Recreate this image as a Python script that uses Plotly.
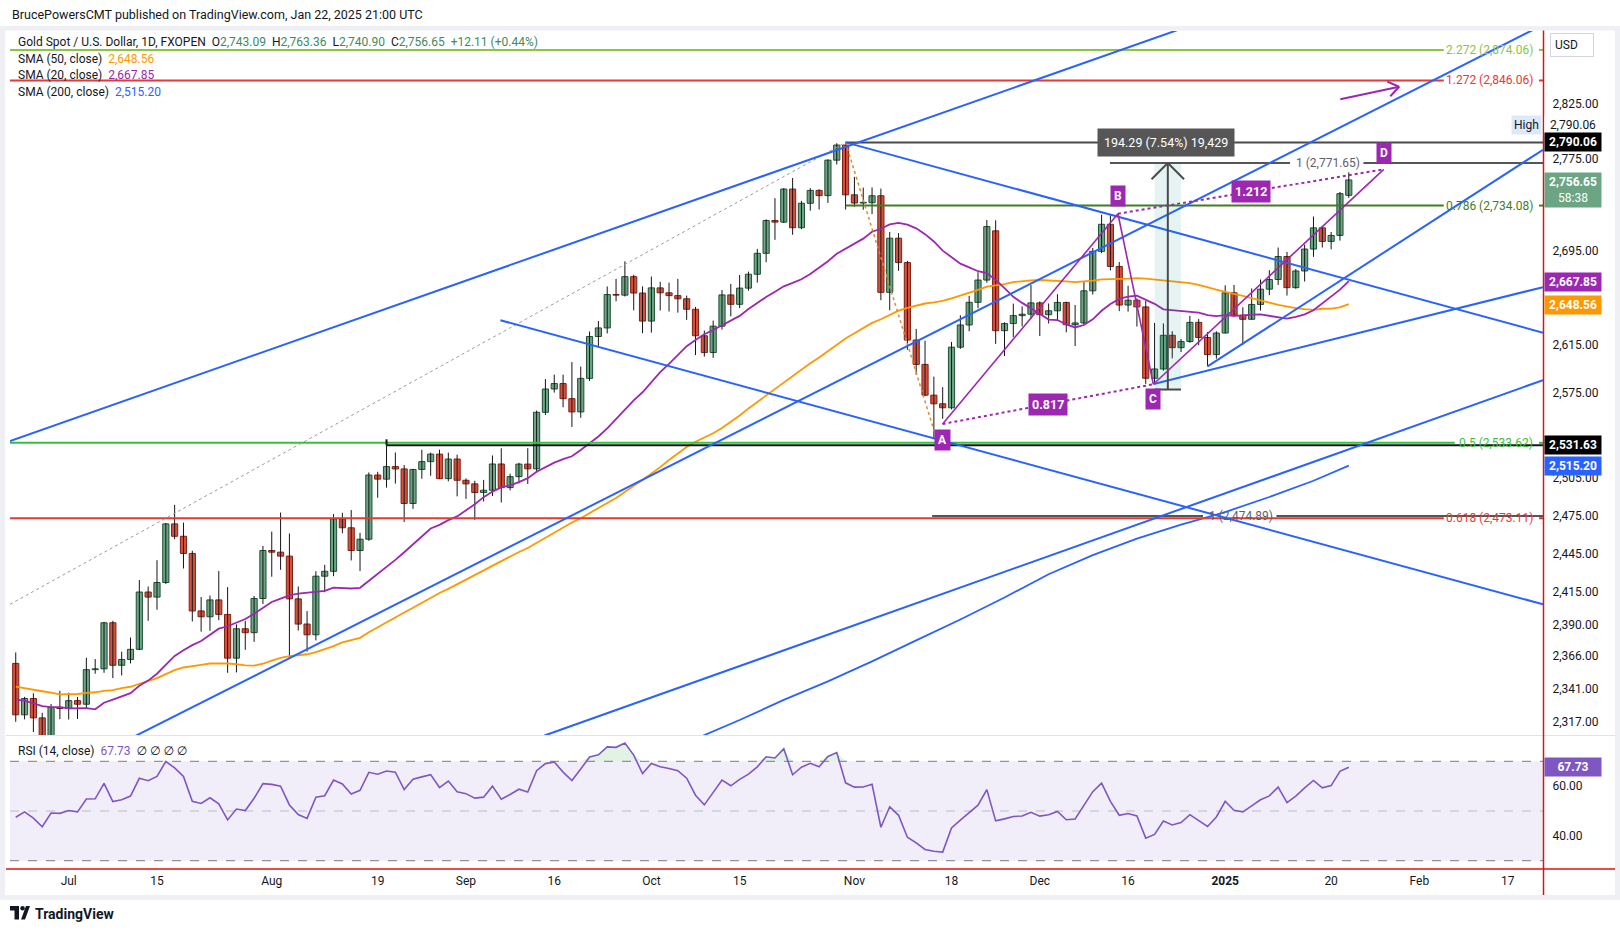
import math
import numpy as np
import pandas as pd
import plotly.graph_objects as go

FONT = "Roboto, 'Noto Sans', 'DejaVu Sans', sans-serif"
TXT = "#131722"
UP_FILL, UP_LINE = "#6ba583", "#1f4f35"
DN_FILL, DN_LINE = "#d6513d", "#7c2217"
BLUE, PURPLE, ORANGE = "#2962ff", "#9c27b0", "#ff9800"
RSI_COL = "#7e57c2"
AXIS_RED = "#e01010"

# ---------------- data ----------------
holidays = ["2024-12-25", "2025-01-01"]
sessions = [d.strftime("%Y-%m-%d") for d in pd.bdate_range("2024-06-21", "2025-02-28")
            if d.strftime("%Y-%m-%d") not in holidays]
POS = {d: i for i, d in enumerate(sessions)}

opens = [
    2360.5, 2321.9, 2334.1, 2319.6, 2298.4, 2327.5,
    2326.6, 2332.5, 2329.8, 2355.8, 2356.4, 2391.5, 2359.1, 2363.5, 2371.2, 2415.2, 2411.3, 2422.6,
    2468.6, 2458.8, 2445.3, 2400.6, 2396.1, 2409.1, 2397.9, 2364.5, 2386.9, 2383.9, 2410.2,
    2447.6, 2446.3, 2443.2, 2409.9, 2390.5, 2382.3, 2427.5, 2431.3, 2472.5, 2465.5, 2447.6, 2456.5,
    2507.6, 2504.3, 2514.4, 2512.5, 2484.8, 2512.1, 2518.4, 2524.5, 2504.7, 2520.5,
    2503.4, 2500.5, 2493.6, 2495.4, 2516.5, 2497.5, 2506.3, 2516.4, 2512.6, 2558.6, 2577.8, 2582.3,
    2569.8, 2558.9, 2586.6, 2621.6, 2628.8, 2657.1, 2656.6, 2672.4, 2658.4,
    2634.6, 2662.8, 2658.6, 2656.2, 2653.5, 2644.6, 2622.2, 2608.1, 2630.3, 2656.8, 2648.8, 2662.6,
    2674.5, 2692.5, 2721.0, 2719.6, 2748.6, 2714.7, 2736.1, 2747.4, 2742.8, 2774.2, 2787.7,
    2743.5, 2736.3, 2736.6, 2742.7, 2659.0, 2705.6, 2684.5, 2618.6, 2598.2, 2572.7, 2565.6, 2562.3,
    2612.6, 2631.3, 2650.5, 2669.5, 2712.0, 2626.5, 2632.5, 2639.2, 2640.4,
    2650.0, 2640.0, 2643.3, 2650.4, 2631.5, 2633.0, 2660.3, 2694.2, 2717.7, 2681.2, 2648.2, 2652.3,
    2646.6, 2586.7, 2594.4, 2622.6, 2612.2, 2617.4, 2633.5, 2620.8, 2606.4,
    2624.5, 2658.6, 2639.6, 2636.1, 2648.7, 2661.7, 2670.0, 2689.7, 2663.0, 2677.3, 2696.2, 2714.6,
    2702.8, 2708.0, 2743.09,
]
highs = [
    2368.8, 2335.3, 2338.0, 2323.4, 2330.0, 2339.9,
    2338.4, 2335.2, 2364.8, 2363.8, 2392.2, 2393.0, 2369.4, 2380.2, 2424.5, 2419.5, 2440.0, 2469.3,
    2483.7, 2469.6, 2447.4, 2411.4, 2412.5, 2431.5, 2419.0, 2390.3, 2393.0, 2412.1, 2451.2,
    2462.5, 2477.6, 2461.0, 2419.5, 2400.5, 2431.4, 2436.4, 2476.4, 2477.4, 2479.6, 2461.5, 2509.7,
    2510.2, 2531.63, 2525.8, 2515.6, 2512.5, 2528.0, 2525.7, 2528.1, 2525.7, 2524.0,
    2504.9, 2503.0, 2503.7, 2523.4, 2529.2, 2508.6, 2517.5, 2529.3, 2560.0, 2586.0, 2589.7, 2589.7,
    2600.2, 2596.4, 2625.8, 2634.7, 2664.0, 2670.5, 2685.6, 2674.0, 2664.0,
    2672.5, 2668.0, 2667.3, 2670.5, 2656.2, 2646.6, 2626.6, 2635.0, 2661.0, 2666.2, 2673.8, 2676.7,
    2696.3, 2722.0, 2740.6, 2749.4, 2758.4, 2738.2, 2749.4, 2748.4, 2775.0, 2789.3, 2790.06,
    2759.4, 2749.9, 2750.0, 2749.0, 2711.0, 2710.0, 2686.0, 2628.0, 2618.0, 2588.0, 2579.3, 2617.0,
    2639.5, 2656.0, 2676.2, 2721.4, 2721.2, 2633.5, 2649.4, 2647.0, 2665.2,
    2651.3, 2649.5, 2657.4, 2651.0, 2648.2, 2668.4, 2697.2, 2726.0, 2725.6, 2685.0, 2664.6, 2653.8,
    2652.0, 2633.0, 2632.6, 2626.0, 2619.5, 2639.0, 2636.3, 2625.3, 2626.0,
    2665.0, 2665.3, 2646.3, 2662.3, 2670.0, 2678.0, 2697.5, 2693.7, 2679.0, 2700.0, 2724.5, 2716.3,
    2711.0, 2746.0, 2763.36,
]
lows = [
    2316.7, 2318.5, 2309.1, 2293.7, 2298.0, 2318.6,
    2318.4, 2318.8, 2326.7, 2352.7, 2353.4, 2349.4, 2351.4, 2360.5, 2370.6, 2393.0, 2401.5, 2421.5,
    2456.5, 2433.5, 2392.5, 2384.7, 2385.4, 2393.5, 2353.4, 2353.7, 2370.8, 2376.9, 2406.0,
    2427.1, 2432.5, 2364.5, 2385.5, 2369.5, 2378.0, 2415.0, 2427.5, 2461.2, 2439.8, 2431.5, 2455.2,
    2489.4, 2497.5, 2500.7, 2470.1, 2480.5, 2504.6, 2507.0, 2504.3, 2502.5, 2490.5,
    2488.5, 2471.8, 2486.4, 2490.7, 2485.6, 2495.3, 2500.9, 2500.4, 2510.0, 2556.4, 2574.8, 2562.7,
    2546.6, 2554.1, 2584.3, 2613.3, 2624.2, 2651.4, 2655.5, 2643.7, 2624.4,
    2624.8, 2643.5, 2642.7, 2641.7, 2635.6, 2606.0, 2604.7, 2603.7, 2627.4, 2638.6, 2645.6, 2660.4,
    2667.3, 2684.8, 2704.2, 2718.8, 2708.6, 2713.5, 2729.6, 2730.6, 2736.4, 2770.4, 2730.6,
    2733.0, 2730.4, 2726.6, 2652.3, 2643.7, 2677.4, 2610.5, 2589.6, 2572.0, 2536.8, 2553.3, 2561.0,
    2611.2, 2626.0, 2645.5, 2667.2, 2615.4, 2605.2, 2621.2, 2630.1, 2636.4,
    2622.0, 2632.5, 2634.6, 2625.1, 2613.6, 2631.6, 2657.1, 2692.6, 2677.7, 2643.0, 2642.6, 2630.0,
    2582.0, 2583.0, 2593.0, 2603.3, 2608.5, 2616.3, 2614.2, 2596.5, 2603.0,
    2624.3, 2638.0, 2614.5, 2636.0, 2643.5, 2656.6, 2665.3, 2656.3, 2662.0, 2668.2, 2689.5, 2697.5,
    2696.0, 2703.5, 2740.90,
]
closes = [
    2321.9, 2334.1, 2319.6, 2298.4, 2327.5, 2326.6,
    2332.5, 2329.8, 2355.8, 2356.4, 2391.5, 2359.1, 2363.5, 2371.2, 2415.2, 2411.3, 2422.6, 2468.6,
    2458.8, 2445.3, 2400.6, 2396.1, 2409.1, 2397.9, 2364.5, 2386.9, 2383.9, 2410.2, 2447.6,
    2446.3, 2443.2, 2409.9, 2390.5, 2382.3, 2427.5, 2431.3, 2472.5, 2465.5, 2447.6, 2456.5, 2507.6,
    2504.3, 2514.4, 2512.5, 2484.8, 2512.1, 2518.4, 2524.5, 2504.7, 2520.5, 2503.4,
    2500.5, 2493.6, 2495.4, 2516.5, 2497.5, 2506.3, 2516.4, 2512.6, 2558.6, 2577.8, 2582.3, 2569.8,
    2558.9, 2586.6, 2621.6, 2628.8, 2657.1, 2656.6, 2672.4, 2658.4, 2634.6,
    2662.8, 2658.6, 2656.2, 2653.5, 2644.6, 2622.2, 2608.1, 2630.3, 2656.8, 2648.8, 2662.6, 2674.5,
    2692.5, 2721.0, 2719.6, 2748.6, 2714.7, 2736.1, 2747.4, 2742.8, 2774.2, 2787.7, 2743.5,
    2736.3, 2736.6, 2742.7, 2659.0, 2705.6, 2684.5, 2618.6, 2598.2, 2572.7, 2565.6, 2562.3, 2612.6,
    2631.3, 2650.5, 2669.5, 2715.7, 2626.5, 2632.5, 2639.2, 2640.4, 2650.0,
    2640.0, 2643.3, 2650.4, 2631.5, 2633.0, 2660.3, 2694.2, 2717.7, 2681.2, 2648.2, 2652.3, 2646.6,
    2586.7, 2594.4, 2622.6, 2612.2, 2617.4, 2633.5, 2620.8, 2606.4, 2624.5,
    2658.6, 2639.6, 2636.1, 2648.7, 2661.7, 2670.0, 2689.7, 2663.0, 2677.3, 2696.2, 2714.6, 2702.8,
    2708.0, 2744.54, 2756.65,
]
# closes before the first visible bar (warm-up for the moving averages / RSI)
hist_close = [
    2339, 2352, 2333, 2372, 2344, 2383, 2383, 2361, 2379, 2391, 2327, 2322, 2316, 2332, 2337, 2335,
    2286, 2320, 2303, 2301, 2323, 2314, 2309, 2346, 2360, 2336, 2358, 2386, 2376, 2415, 2425, 2421,
    2378, 2329, 2334, 2350, 2361, 2338, 2343, 2327, 2350, 2327, 2355, 2375, 2293, 2311, 2316, 2324,
    2304, 2333, 2319, 2329, 2328, 2360,
]
sma200_dates = ["2024-10-01", "2024-10-08", "2024-10-15", "2024-10-22", "2024-10-29", "2024-11-05",
                "2024-11-12", "2024-11-19", "2024-11-26", "2024-12-03", "2024-12-10", "2024-12-17",
                "2024-12-24", "2025-01-02", "2025-01-09", "2025-01-16", "2025-01-22"]
sma200_vals = [2289, 2304, 2318, 2333, 2347, 2362, 2378, 2394, 2411, 2429, 2444, 2457, 2468, 2478,
               2490, 2503, 2515.2]

# price-scale ticks (the ones hidden under value boxes in the reference are left out)
price_ticks = [2317, 2341, 2366, 2390, 2415, 2445, 2475, 2505, 2575, 2615, 2695, 2775, 2825]
rsi_ticks = [40, 60]
time_tick_dates = ["2024-07-01", "2024-07-15", "2024-08-01", "2024-08-19", "2024-09-02", "2024-09-16",
                   "2024-10-01", "2024-10-15", "2024-11-01", "2024-11-18", "2024-12-02", "2024-12-16",
                   "2025-01-02", "2025-01-20", "2025-02-03", "2025-02-17"]
time_tick_text = ["Jul", "15", "Aug", "19", "Sep", "16", "Oct", "15", "Nov", "18", "Dec", "16",
                  "<b>2025</b>", "20", "Feb", "17"]

# drawing-tool anchors (bar index, price)
blue_lines = [  # x1, p1, x2, p2, extend_left, extend_right
    (-0.65, 2535.0, 94.0, 2786.0, False, True),
    (31.0, 2364.5, 154.5, 2821.6, True, True),
    (135.0, 2596.5, 173.0, 2783.5, False, False),
    (54.9, 2635.3, 173.0, 2405.7, False, False),
    (94.0, 2790.06, 173.0, 2624.8, False, False),
    (128.9, 2582.0, 173.0, 2663.4, False, False),
    (59.9, 2306.5, 173.0, 2585.1, False, False),
]
abcd = {"A": (104.99, 2549.0), "B": (124.85, 2726.9), "C": (128.86, 2581.7), "D": (154.96, 2766.0)}
abcd_ratio = {"AC": "0.817", "BD": "1.212"}
fib_levels = [  # price, label, colour, first bar (None = left edge)
    (2874.06, "2.272 (2,874.06)", "#8cc63f", None),
    (2846.06, "1.272 (2,846.06)", "#e53935", None),
    (2734.08, "0.786 (2,734.08)", "#437d22", 94),
    (2533.62, "0.5 (2,533.62)", "#36c236", None),
    (2473.11, "0.618 (2,473.11)", "#e53935", None),
]
fib_ext = [  # price, label, first bar, label left px
    (2771.65, "1 (2,771.65)", 123.95, 1294),
    (2474.89, "1 (2,474.89)", 103.8, 1207),
]
level_lines = [(2790.06, "#4a4a4a", 94), (2531.63, TXT, 42)]
measure = dict(b0=129, b1=132, low=2577.36, high=2771.65, text="194.29 (7.54%) 19,429")
grey_trend = (-0.65, 2405.7, 94.0, 2790.06)
orange_trend = (94.0, 2790.06, 104.06, 2542.6)
purple_arrow = (150.04, 2829.0, 156.71, 2840.3)

# ---------------- geometry ----------------
W, H = 1620, 931
ML, MR, MT, MB = 10, 77, 31, 62
PW, PH = W - ML - MR, H - MT - MB
P_TOP, P_BOT = 31, 735
R_TOP = 736
X_RANGE = [-0.65, 173.0]
YP = [2306.9, 2891.6]
YR = [26.66, 80.18]
LY0, LY1 = math.log10(YP[0]), math.log10(YP[1])


def xpap(px):
    return (px - ML) / PW


def ypap(py):
    return (H - MB - py) / PH


def pos_at_px(px):
    return X_RANGE[0] + (px - ML) / PW * (X_RANGE[1] - X_RANGE[0])


def px_of_pos(pos):
    return ML + (pos - X_RANGE[0]) / (X_RANGE[1] - X_RANGE[0]) * PW


def price_at_px(py):
    return 10 ** (LY0 + (P_BOT - py) / (P_BOT - P_TOP) * (LY1 - LY0))


def py_of_price(p):
    return P_BOT - (math.log10(p) - LY0) / (LY1 - LY0) * (P_BOT - P_TOP)


n = len(closes)
assert len(opens) == len(highs) == len(lows) == n
xs = list(range(n))

allc = np.array(hist_close + closes, dtype=float)
ser = pd.Series(allc)
h0 = len(hist_close)
sma20 = ser.rolling(20).mean().values[h0:]
sma50 = ser.rolling(50).mean().values[h0:]

d = np.diff(allc)
g = np.where(d > 0, d, 0.0)
lo_ = np.where(d < 0, -d, 0.0)
N = 14
rsi_all = np.full(len(allc), np.nan)
ag, al = g[:N].mean(), lo_[:N].mean()
rsi_all[N] = 100 - 100 / (1 + ag / al)
for i in range(N + 1, len(allc)):
    ag = (ag * (N - 1) + g[i - 1]) / N
    al = (al * (N - 1) + lo_[i - 1]) / N
    rsi_all[i] = 100 - 100 / (1 + ag / al)
rsi = rsi_all[h0:]

fig = go.Figure()

# candles: wicks + bodies
wx, wy = [], []
for i in xs:
    wx += [i, i, None]
    wy += [lows[i], highs[i], None]
fig.add_trace(go.Scatter(x=wx, y=wy, mode="lines", line=dict(color="#151515", width=1),
                         hoverinfo="skip", xaxis="x", yaxis="y"))
up = [i for i in xs if closes[i] >= opens[i]]
dn = [i for i in xs if closes[i] < opens[i]]
for idxs, fc, lc in ((up, UP_FILL, UP_LINE), (dn, DN_FILL, DN_LINE)):
    fig.add_trace(go.Bar(x=idxs, y=[max(abs(closes[i] - opens[i]), 0.6) for i in idxs],
                         base=[min(opens[i], closes[i]) for i in idxs], width=0.7,
                         marker=dict(color=fc, line=dict(color=lc, width=1)),
                         hoverinfo="skip", xaxis="x", yaxis="y"))

fig.add_trace(go.Scatter(x=xs, y=sma50, mode="lines", line=dict(color=ORANGE, width=1.8),
                         xaxis="x", yaxis="y", hoverinfo="skip"))
fig.add_trace(go.Scatter(x=xs, y=sma20, mode="lines", line=dict(color=PURPLE, width=1.8),
                         xaxis="x", yaxis="y", hoverinfo="skip"))
fig.add_trace(go.Scatter(x=[POS[s] for s in sma200_dates], y=sma200_vals, mode="lines",
                         line=dict(color=BLUE, width=1.8), xaxis="x", yaxis="y", hoverinfo="skip"))

# RSI
fig.add_trace(go.Scatter(x=xs, y=[70] * n, mode="lines", line=dict(width=0, color="rgba(0,0,0,0)"),
                         xaxis="x2", yaxis="y2", hoverinfo="skip"))
fig.add_trace(go.Scatter(x=xs, y=np.maximum(rsi, 70), mode="lines", line=dict(width=0),
                         fill="tonexty", fillcolor="rgba(76,175,80,0.16)",
                         xaxis="x2", yaxis="y2", hoverinfo="skip"))
fig.add_trace(go.Scatter(x=xs, y=rsi, mode="lines", line=dict(color=RSI_COL, width=1.6),
                         xaxis="x2", yaxis="y2", hoverinfo="skip"))

shapes = []
annotations = []


def seg(x0, p0, x1, p1, color, width=2, dash="solid", xref="x", yref="y", layer="above"):
    shapes.append(dict(type="line", xref=xref, yref=yref, x0=x0, y0=p0, x1=x1, y1=p1,
                       line=dict(color=color, width=width, dash=dash), layer=layer))


def log_at(x1, p1, x2, p2, x):
    return math.exp(math.log(p1) + (x - x1) * (math.log(p2) - math.log(p1)) / (x2 - x1))


def chevron(tip, tail, length, half_deg, color, width):
    tx, ty = px_of_pos(tip[0]), py_of_price(tip[1])
    bx, by = px_of_pos(tail[0]), py_of_price(tail[1])
    ang = math.atan2(by - ty, bx - tx)
    for s in (1, -1):
        a = ang + s * math.radians(half_deg)
        ex, ey = tx + length * math.cos(a), ty + length * math.sin(a)
        seg(tip[0], tip[1], pos_at_px(ex), price_at_px(ey), color, width)


XL, XR = X_RANGE

# fib levels with label gaps
for price, label, col, start in fib_levels:
    w = 5.45 * len(label)
    b0 = XL if start is None else start
    seg(b0, price, pos_at_px(1535 - w - 4), price, col, 2)
    seg(pos_at_px(1539), price, XR, price, col, 2)
    annotations.append(dict(xref="paper", yref="y", x=xpap(1535), y=math.log10(price), xanchor="right",
                            yanchor="middle", text=label, showarrow=False,
                            font=dict(family=FONT, size=12, color=col)))
for price, label, start, lpx in fib_ext:
    w = 5.45 * len(label)
    seg(start, price, pos_at_px(lpx - 4), price, "#555555", 2)
    seg(pos_at_px(lpx + w + 4), price, XR, price, "#555555", 2)
    annotations.append(dict(xref="paper", yref="y", x=xpap(lpx), y=math.log10(price), xanchor="left",
                            yanchor="middle", text=label, showarrow=False,
                            font=dict(family=FONT, size=12, color="#5d606b")))
for price, col, start in level_lines:
    seg(start, price, XR, price, col, 2)
seg(42, 2531.63, 42, price_at_px(py_of_price(2531.63) - 6), TXT, 2)

# dotted trend lines
seg(*grey_trend, "#9a9ca3", 1, "dot")
seg(*orange_trend, "#d98a3a", 1.5, "dot")

# blue trend lines
for x1, p1, x2, p2, el, er in blue_lines:
    a = XL if el else x1
    b = XR if er else x2
    seg(a, log_at(x1, p1, x2, p2, a), b, log_at(x1, p1, x2, p2, b), BLUE, 2)

# measure tool
shapes.append(dict(type="rect", xref="x", yref="y", x0=measure["b0"], x1=measure["b1"],
                   y0=measure["low"], y1=measure["high"], fillcolor="rgba(0,150,136,0.10)",
                   line=dict(width=0), layer="above"))
mid = (measure["b0"] + measure["b1"]) / 2
seg(measure["b0"], measure["low"], measure["b1"], measure["low"], "#4a4a4a", 2)
seg(mid, measure["low"], mid, measure["high"], "#4a4a4a", 2)
chevron((mid, measure["high"]), (mid, measure["low"]), 23, 45, "#4a4a4a", 2)
annotations.append(dict(xref="x", yref="y", x=mid - 0.15, y=math.log10(2790.06), text=measure["text"],
                        showarrow=False, bgcolor="#565656", borderpad=6,
                        font=dict(family=FONT, size=12.5, color="white")))

# ABCD pattern
A, B, C, D = abcd["A"], abcd["B"], abcd["C"], abcd["D"]
for p, q in ((A, B), (B, C), (C, D)):
    seg(p[0], p[1], q[0], q[1], PURPLE, 1.6)
for p, q in ((A, C), (B, D)):
    seg(p[0], p[1], q[0], q[1], PURPLE, 2, "dot")
for key, dy in (("A", -16), ("B", 18), ("C", -15), ("D", 16)):
    p = abcd[key]
    annotations.append(dict(xref="x", yref="y", x=p[0], y=math.log10(p[1]), yshift=dy,
                            text=f"<b>{key}</b>", showarrow=False, bgcolor=PURPLE, borderpad=3,
                            font=dict(family=FONT, size=12, color="white")))
for (p, q), key in (((A, C), "AC"), ((B, D), "BD")):
    annotations.append(dict(xref="x", yref="y", x=(p[0] + q[0]) / 2,
                            y=(math.log10(p[1]) + math.log10(q[1])) / 2,
                            text=f"<b>{abcd_ratio[key]}</b>", showarrow=False, bgcolor=PURPLE,
                            borderpad=3, font=dict(family=FONT, size=12.5, color="white")))

# purple arrow
seg(purple_arrow[0], purple_arrow[1], purple_arrow[2], purple_arrow[3], PURPLE, 2)
chevron((purple_arrow[2], purple_arrow[3]), (purple_arrow[0], purple_arrow[1]), 13, 35, PURPLE, 2)

# RSI band + guides
shapes.append(dict(type="rect", xref="x2", yref="y2", x0=XL, x1=XR, y0=30, y1=70,
                   fillcolor="rgba(126,87,194,0.10)", line=dict(width=0), layer="below"))
seg(XL, 70, XR, 70, "#787b86", 1, "dash", "x2", "y2", "below")
seg(XL, 30, XR, 30, "#787b86", 1, "dash", "x2", "y2", "below")
seg(XL, 50, XR, 50, "#b8bbc4", 1, "dash", "x2", "y2", "below")


# frame and axis lines (page pixels)
def prect(x0, y0, x1, y1, color):
    shapes.append(dict(type="rect", xref="paper", yref="paper", x0=xpap(x0), x1=xpap(x1),
                       y0=ypap(y1), y1=ypap(y0), fillcolor=color, line=dict(width=0), layer="above"))


def pline(x0, y0, x1, y1, color, width=1):
    shapes.append(dict(type="line", xref="paper", yref="paper", x0=xpap(x0), x1=xpap(x1),
                       y0=ypap(y0), y1=ypap(y1), line=dict(color=color, width=width), layer="above"))


FRAME = "#eef0f4"
prect(0, 26, W, 30.5, FRAME)
prect(0, 26, 5, 900, FRAME)
prect(W - 5, 26, W, 900, FRAME)
prect(0, 895, W, 900, FRAME)
pline(6, 735.5, W - 5, 735.5, "#e0e3eb", 1)
pline(1543.5, 30.5, 1543.5, 895, AXIS_RED, 1.5)
pline(6, 869, W - 5, 869, AXIS_RED, 1.5)

# TradingView logo
prect(10, 906, 19, 910.5, TXT)
prect(14.5, 906, 19, 919.5, TXT)
shapes.append(dict(type="circle", xref="paper", yref="paper", x0=xpap(20.3), x1=xpap(24.8),
                   y0=ypap(910.5), y1=ypap(906), fillcolor=TXT, line=dict(width=0)))
shapes.append(dict(type="path", xref="paper", yref="paper",
                   path=(f"M {xpap(21)},{ypap(919.5)} L {xpap(26)},{ypap(906)} L {xpap(30)},{ypap(906)} "
                         f"L {xpap(25)},{ypap(919.5)} Z"), fillcolor=TXT, line=dict(width=0)))
annotations.append(dict(xref="paper", yref="paper", x=xpap(33), y=ypap(913.5), xanchor="left",
                        yanchor="middle", text="<b>TradingView</b>", showarrow=False,
                        font=dict(family=FONT, size=14, color=TXT)))

# header + legend
annotations.append(dict(xref="paper", yref="paper", x=xpap(10), y=ypap(14.5), xanchor="left",
                        yanchor="middle", showarrow=False,
                        text="BrucePowersCMT published on TradingView.com, Jan 22, 2025 21:00 UTC",
                        font=dict(family=FONT, size=12.5, color=TXT)))
LEG_G = "#3f8a5f"
last = n - 1
chg = closes[last] - closes[last - 1]
pct = chg / closes[last - 1] * 100
sp = "\u00a0\u00a0"
row1 = (f"Gold Spot / U.S. Dollar, 1D, FXOPEN{sp}O<span style='color:{LEG_G}'>{opens[last]:,.2f}</span>"
        f"{sp}H<span style='color:{LEG_G}'>{highs[last]:,.2f}</span>"
        f"{sp}L<span style='color:{LEG_G}'>{lows[last]:,.2f}</span>"
        f"{sp}C<span style='color:{LEG_G}'>{closes[last]:,.2f}</span>"
        f"{sp}<span style='color:{LEG_G}'>{chg:+,.2f} ({pct:+.2f}%)</span>")
sma_labels = [("SMA (50, close)", "2,648.56", ORANGE), ("SMA (20, close)", "2,667.85", PURPLE),
              ("SMA (200, close)", "2,515.20", BLUE)]
legend_rows = [row1] + [f"{a}\u00a0 <span style='color:{c}'>{v}</span>" for a, v, c in sma_labels]
for txt, y in zip(legend_rows, (41.5, 59, 75.5, 92)):
    annotations.append(dict(xref="paper", yref="paper", x=xpap(15.5), y=ypap(y), xanchor="left",
                            yanchor="middle", text=txt, showarrow=False,
                            font=dict(family=FONT, size=12, color=TXT)))
annotations.append(dict(xref="paper", yref="paper", x=xpap(15.5), y=ypap(751), xanchor="left",
                        yanchor="middle", showarrow=False,
                        text=f"RSI (14, close)\u00a0 <span style='color:{RSI_COL}'>67.73</span>\u00a0 ∅ ∅ ∅ ∅",
                        font=dict(family=FONT, size=12, color=TXT)))


# price-scale boxes
def axis_box(text, yref, y, bg, fg="white", yshift=0, yanchor="middle", width=52):
    annotations.append(dict(xref="paper", yref=yref, x=xpap(1544), y=y, xanchor="left", yanchor=yanchor,
                            yshift=yshift, text=text, showarrow=False, bgcolor=bg, borderpad=2,
                            width=width, align="center", font=dict(family=FONT, size=12, color=fg)))


axis_box("2,790.06", "y", math.log10(2790.06), "#ffffff", TXT, yshift=17)
axis_box("<b>2,790.06</b>", "y", math.log10(2790.06), "#000000")
axis_box(f"<b>{closes[last]:,.2f}</b><br>58:38", "y", math.log10(closes[last]), UP_FILL, yshift=8,
         yanchor="top")
axis_box("<b>2,667.85</b>", "y", math.log10(2667.85), PURPLE)
axis_box("<b>2,648.56</b>", "y", math.log10(2648.56), ORANGE)
axis_box("<b>2,531.63</b>", "y", math.log10(2531.63), "#000000")
axis_box("<b>2,515.20</b>", "y", math.log10(2515.20), BLUE)
axis_box("<b>67.73</b>", "y2", 67.73, RSI_COL)
annotations.append(dict(xref="paper", yref="y", x=xpap(1542), y=math.log10(2790.06), yshift=17,
                        xanchor="right", yanchor="middle", text="High", showarrow=False,
                        bgcolor="#dde9fb", borderpad=2, font=dict(family=FONT, size=12, color=TXT)))
annotations.append(dict(xref="paper", yref="paper", x=xpap(1550), y=ypap(45), xanchor="left",
                        yanchor="middle", text="USD", showarrow=False, bgcolor="white",
                        bordercolor="#d1d4dc", borderwidth=1, borderpad=4, width=34, align="left",
                        font=dict(family=FONT, size=12, color=TXT)))

fig.update_layout(
    width=W, height=H, margin=dict(l=ML, r=MR, t=MT, b=MB, autoexpand=False),
    paper_bgcolor="white", plot_bgcolor="white", showlegend=False, barmode="overlay",
    hovermode=False, shapes=shapes, annotations=annotations,
    xaxis=dict(domain=[0, 1], range=X_RANGE, anchor="y", showgrid=False, zeroline=False,
               showticklabels=False, showline=False, fixedrange=True),
    yaxis=dict(domain=[ypap(P_BOT), 1], type="log", range=[LY0, LY1], side="right", anchor="x",
               tickmode="array", tickvals=price_ticks, ticktext=[f"{v:,.2f}" for v in price_ticks],
               showgrid=False, zeroline=False, showline=False, ticks="outside", ticklen=6,
               tickcolor="rgba(0,0,0,0)", tickfont=dict(family=FONT, size=12, color=TXT),
               fixedrange=True),
    xaxis2=dict(domain=[0, 1], range=X_RANGE, anchor="y2", matches="x", tickmode="array",
                tickvals=[POS[t] for t in time_tick_dates], ticktext=time_tick_text,
                showgrid=False, zeroline=False, showline=False, ticks="outside", ticklen=1,
                tickcolor="rgba(0,0,0,0)", tickfont=dict(family=FONT, size=12, color=TXT),
                fixedrange=True),
    yaxis2=dict(domain=[0, ypap(R_TOP)], range=YR, side="right", anchor="x2", tickmode="array",
                tickvals=rsi_ticks, ticktext=[f"{v:.2f}" for v in rsi_ticks], showgrid=False,
                zeroline=False, showline=False, ticks="outside", ticklen=6, tickcolor="rgba(0,0,0,0)",
                tickfont=dict(family=FONT, size=12, color=TXT), fixedrange=True),
)

fig.write_html("out.html", config={"displayModeBar": False},
               post_script="document.body.style.margin='0px';")
